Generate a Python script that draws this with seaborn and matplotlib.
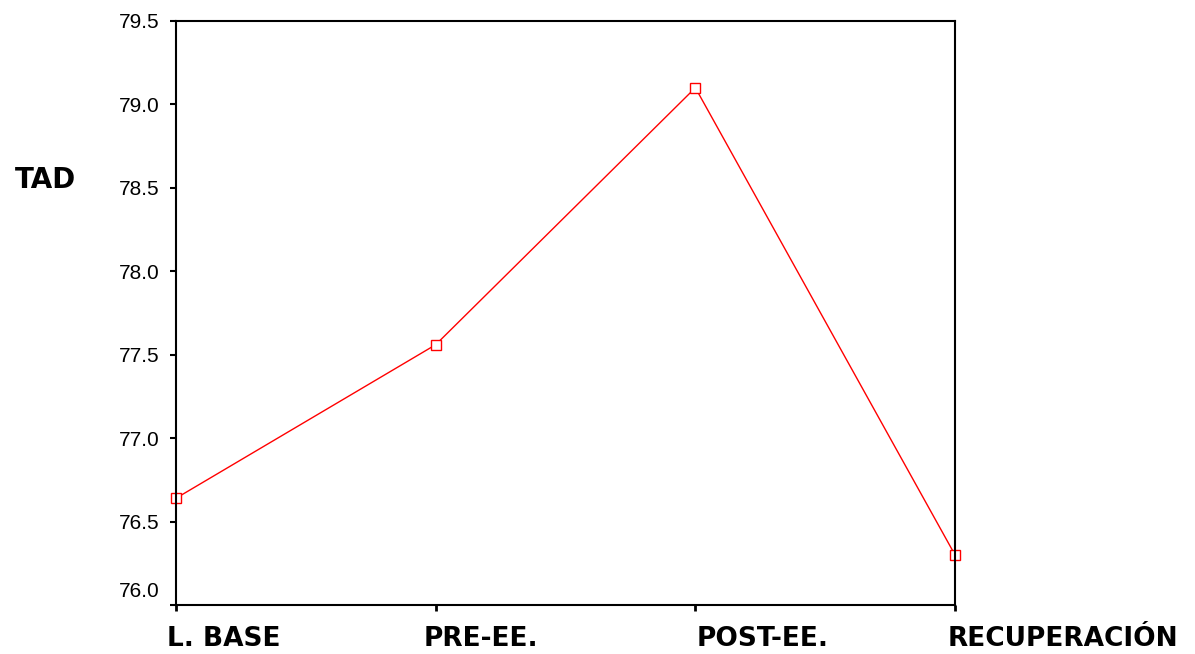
import matplotlib
matplotlib.use("Agg")
import matplotlib.pyplot as plt
import matplotlib.transforms as mtransforms
import seaborn as sns
import pandas as pd

categories = ["L. BASE", "PRE-EE.", "POST-EE.", "RECUPERACIÓN"]
values = [76.64, 77.56, 79.10, 76.30]
yticks = [76.0, 76.5, 77.0, 77.5, 78.0, 78.5, 79.0, 79.5]

sns.set_theme(style="white")
plt.rcParams['font.family'] = ['Liberation Sans', 'DejaVu Sans']
plt.rcParams['text.color'] = 'black'
plt.rcParams['xtick.color'] = 'black'
plt.rcParams['ytick.color'] = 'black'

fig = plt.figure(figsize=(11.95, 6.54), dpi=100)
ax = fig.add_axes([0.1473, 0.0749, 0.6519, 0.893])

df = pd.DataFrame({"pos": range(len(categories)), "val": values})
sns.lineplot(data=df, x="pos", y="val", ax=ax, color="red", linewidth=1.0,
             marker="s", markersize=7, markerfacecolor="white",
             markeredgecolor="red", markeredgewidth=1.0)
for ln in ax.lines:
    ln.set_clip_on(False)

ax.set_xlim(0, len(categories) - 1)
ax.set_ylim(76.0, 79.5)
ax.set_yticks(yticks)
ax.set_yticklabels([f"{v:.1f}" for v in yticks], fontsize=15, color="black")
ax.set_xticks(range(len(categories)))
ax.set_xticklabels(categories, fontsize=19, fontweight="bold",
                   family=["DejaVu Sans"], ha="left", color="black")
ax.set_xlabel("")
ax.set_ylabel("")

for s in ax.spines.values():
    s.set_visible(True)
    s.set_color("black")
    s.set_linewidth(1.5)

ax.tick_params(axis="y", direction="out", length=4, width=1.5, color="black", pad=8, left=True)
ax.tick_params(axis="x", direction="out", length=4, width=2, color="black", pad=11, bottom=True)

offsets = [-9, -12, 1, -7]
for lab, dx in zip(ax.get_xticklabels(), offsets):
    lab.set_transform(lab.get_transform() + mtransforms.ScaledTranslation(dx / 100, 0, fig.dpi_scale_trans))

ylabs = ax.get_yticklabels()
ylabs[0].set_transform(ylabs[0].get_transform() + mtransforms.ScaledTranslation(0, 16 / 100, fig.dpi_scale_trans))

fig.text(15 / 1195, 1 - 180 / 654, "TAD", fontsize=20, fontweight="bold",
         family=["DejaVu Sans"], ha="left", va="center", color="black")

fig.savefig("out.png", dpi=100, facecolor="white")
